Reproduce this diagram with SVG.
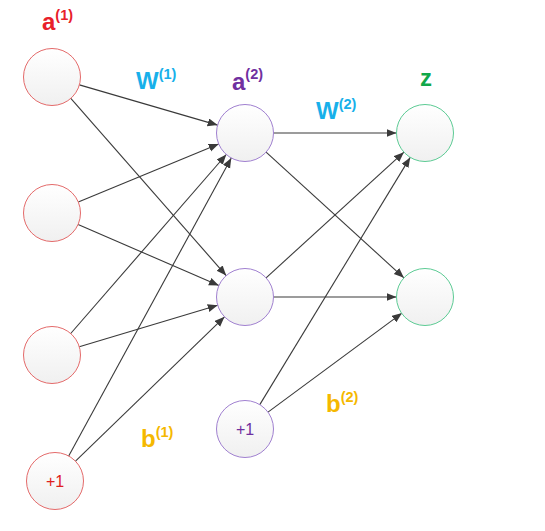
<svg xmlns="http://www.w3.org/2000/svg" width="545" height="531" viewBox="0 0 545 531">
<defs>
<linearGradient id="g" x1="0" y1="0" x2="0" y2="1">
<stop offset="0" stop-color="#ffffff"/>
<stop offset="1" stop-color="#f0f0f0"/>
</linearGradient>
<marker id="arr" markerUnits="userSpaceOnUse" markerWidth="12" markerHeight="10" refX="10" refY="4" orient="auto">
<path d="M0,0 L10,4 L0,8 Z" fill="#3a3a3a"/>
</marker>
</defs>
<style>
.n{fill:url(#g);stroke-width:1}
.red{stroke:#e46a6a}
.pur{stroke:#a080d0}
.grn{stroke:#5ccb94}
.c line{stroke:#3a3a3a;stroke-width:1.1;marker-end:url(#arr)}
.lb{font-family:"Liberation Sans",Arial,sans-serif;font-weight:bold;font-size:24px}
.sup{font-size:14.5px}
.one{font-family:"Liberation Sans",Arial,sans-serif;font-size:16px;text-anchor:middle}
</style>
<rect width="545" height="531" fill="#ffffff"/>
<g id="connectors" class="c">
<line x1="79.4" y1="84.9" x2="217.6" y2="125.1"/>
<line x1="70.8" y1="98.4" x2="226.2" y2="275.6"/>
<line x1="78.3" y1="202.1" x2="218.7" y2="143.9"/>
<line x1="78.1" y1="224.4" x2="218.9" y2="285.6"/>
<line x1="70.7" y1="333.5" x2="226.3" y2="154.5"/>
<line x1="79.3" y1="346.8" x2="217.7" y2="305.2"/>
<line x1="68.7" y1="456.0" x2="231.3" y2="158.0"/>
<line x1="75.5" y1="461.2" x2="224.5" y2="316.8"/>
<line x1="273.5" y1="133" x2="396.5" y2="133"/>
<line x1="266.1" y1="152.2" x2="403.9" y2="277.8"/>
<line x1="266.1" y1="277.8" x2="403.9" y2="152.2"/>
<line x1="273.5" y1="297" x2="396.5" y2="297"/>
<line x1="259.8" y1="404.6" x2="410.2" y2="157.4"/>
<line x1="268.0" y1="412.1" x2="402.0" y2="313.1"/>
</g>
<g id="a1_1"><circle class="n red" cx="52" cy="77" r="28.5"/></g>
<g id="a1_2"><circle class="n red" cx="52" cy="213" r="28.5"/></g>
<g id="a1_3"><circle class="n red" cx="52" cy="355" r="28.5"/></g>
<g id="b1_node"><circle class="n red" cx="55" cy="481" r="28.5"/><text class="one" x="55" y="487" fill="#e02020">+1</text></g>
<g id="a2_1"><circle class="n pur" cx="245" cy="133" r="28.5"/></g>
<g id="a2_2"><circle class="n pur" cx="245" cy="297" r="28.5"/></g>
<g id="b2_node"><circle class="n pur" cx="245" cy="429" r="28.5"/><text class="one" x="245" y="435" fill="#7030a0">+1</text></g>
<g id="z_1"><circle class="n grn" cx="425" cy="133" r="28.5"/></g>
<g id="z_2"><circle class="n grn" cx="425" cy="297" r="28.5"/></g>
<g id="labels">
<text class="lb" x="42" y="30" fill="#e8202a">a<tspan class="sup" dy="-10">(1)</tspan></text>
<text class="lb" x="136" y="89" fill="#18b0ea">W<tspan class="sup" dy="-10">(1)</tspan></text>
<text class="lb" x="232" y="90" fill="#7030a0">a<tspan class="sup" dy="-11">(2)</tspan></text>
<text class="lb" x="316" y="119" fill="#18b0ea">W<tspan class="sup" dy="-10">(2)</tspan></text>
<text class="lb" x="420" y="86" fill="#12a84a">z</text>
<text class="lb" x="141" y="447" fill="#f5b800">b<tspan class="sup" dy="-10">(1)</tspan></text>
<text class="lb" x="326" y="412" fill="#f5b800">b<tspan class="sup" dy="-10">(2)</tspan></text>
</g>
</svg>
